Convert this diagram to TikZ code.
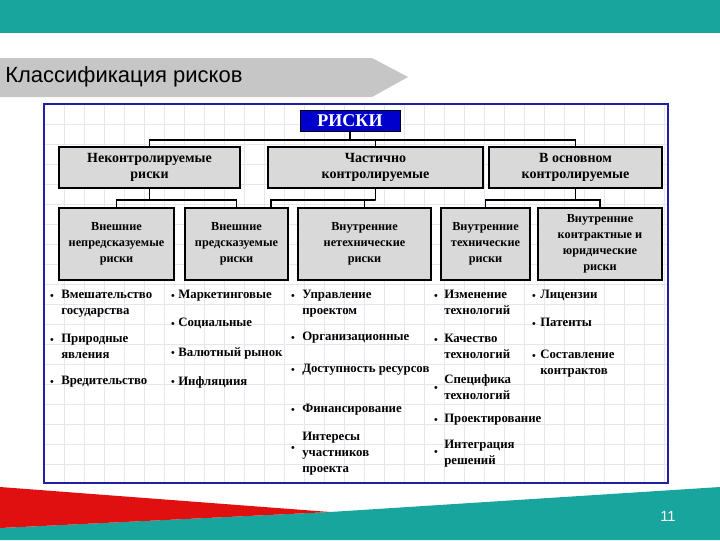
\documentclass[tikz,border=0pt]{standalone}
\usepackage{fontspec}
\setmainfont{Liberation Serif}
\newfontfamily\titlefont{Liberation Sans}
\begin{document}
\begin{tikzpicture}[x=0.75pt,y=-0.75pt,
  box/.style={draw=black,fill=boxgray,line width=0.8pt,align=center,font=\bfseries\fontsize{10.5}{12.5}\selectfont,inner sep=1pt},
  sbox/.style={box,minimum height=54pt,font=\bfseries\fontsize{9.2}{12}\selectfont},
  itm/.style={anchor=north west,align=left,font=\bfseries\fontsize{9.6}{12}\selectfont,inner sep=0pt},
  bul/.style={font=\bfseries\fontsize{8}{8}\selectfont,inner sep=0pt},
  conn/.style={line width=0.9pt}]
\definecolor{teal1}{HTML}{17A59E}
\definecolor{boxgray}{HTML}{D9D9D9}
\definecolor{gridc}{HTML}{E6E6EE}
\definecolor{framec}{HTML}{2020A0}
\definecolor{redc}{HTML}{E01010}
\useasboundingbox (0,0) rectangle (720,540);
\fill[white] (0,0) rectangle (720,540);
\fill[teal1] (0,0) rectangle (720,33);
% title arrow
\fill[gray!45] (0,58) -- (372,58) -- (408,77) -- (372,97) -- (0,97) -- cycle;
\node[anchor=west,font=\titlefont\fontsize{16.5}{17}\selectfont,inner sep=0pt] (title) at (5,77) {Классификация рисков};
% frame
\fill[white] (44,104) rectangle (668,483);
\foreach \x in {44,64,...,668} \draw[gridc,line width=0.4pt] (\x,104) -- (\x,483);
\foreach \y in {104,124,...,483} \draw[gridc,line width=0.4pt] (44,\y) -- (668,\y);
\draw[framec,line width=1.2pt] (44,104) rectangle (668,483);
% top
\node[draw=black,fill=blue!80!black,text=white,font=\bfseries\fontsize{13.5}{14}\selectfont,minimum width=75pt,minimum height=15.5pt,inner sep=0pt] (r) at (350,120.5) {РИСКИ};
\node[box,minimum width=135.75pt,minimum height=30.75pt] (b1) at (149.5,167.5) {Неконтролируемые\\риски};
\node[box,minimum width=161.25pt,minimum height=30.75pt] (b2) at (375.5,167.5) {Частично\\контролируемые};
\node[box,minimum width=129.75pt,minimum height=30.75pt] (b3) at (575.5,167.5) {В основном\\контролируемые};
\draw[conn] (r.south) -- (350,140);
\draw[conn] (b1.north) |- (350,140) -| (b3.north);
\draw[conn] (b2.north) -- (b2.north |- 0,140);
% level 3
\node[sbox,minimum width=86.25pt] (c1) at (116.5,244) {Внешние\\непредсказуемые\\риски};
\node[sbox,minimum width=77.25pt] (c2) at (236.5,244) {Внешние\\предсказуемые\\риски};
\node[sbox,minimum width=99.75pt] (c3) at (364.5,244) {Внутренние\\нетехнические\\риски};
\node[sbox,minimum width=66.75pt] (c4) at (485.5,244) {Внутренние\\технические\\риски};
\node[sbox,minimum width=93pt] (c5) at (600,244) {Внутренние\\контрактные и\\юридические\\риски};
\draw[conn] (b1.south) -- (149.5,200);
\draw[conn] (c1.north) |- (149.5,200) -| (c2.north);
\draw[conn] (b2.south) -- (375.5,200);
\draw[conn] (271,208) |- (375.5,200) -| (c3.north);
\draw[conn] (b3.south) -- (575.5,200);
\draw[conn] (c4.north) |- (575.5,200) -| (c5.north);
% lists
\foreach \bx/\by in {52/297,52/341,52/383,173/297,173/325,173/354,173/383,293/297,293/339,293/371,293/411,293/449,436/297,436/341,436/389,436/421,436/453,534/297,534/325,534/357}
  \node[bul] at (\bx,\by) {•};
\node[itm] (l1) at (61,290) {Вмешательство\\государства};
\node[itm] (l2) at (61,334) {Природные\\явления};
\node[itm] (l3) at (61,376) {Вредительство};
\node[itm] (m1) at (178,290) {Маркетинговые};
\node[itm] (m2) at (178,318) {Социальные};
\node[itm] (m3) at (178,347) {Валютный рынок};
\node[itm] (m4) at (178,376) {Инфляциия};
\node[itm] (n1) at (302,290) {Управление\\проектом};
\node[itm] (n2) at (302,332) {Организационные};
\node[itm] (n3) at (302,364) {Доступность ресурсов};
\node[itm] (n4) at (302,404) {Финансирование};
\node[itm] (n5) at (302,432) {Интересы\\участников\\проекта};
\node[itm] (o1) at (444,290) {Изменение\\технологий};
\node[itm] (o2) at (444,334) {Качество\\технологий};
\node[itm] (o3) at (444,374) {Специфика\\технологий};
\node[itm] (o4) at (444,414) {Проектирование};
\node[itm] (o5) at (444,440) {Интеграция\\решений};
\node[itm] (p1) at (540,290) {Лицензии};
\node[itm] (p2) at (540,318) {Патенты};
\node[itm] (p3) at (540,350) {Составление\\контрактов};
% bottom
\fill[teal1] (0,540) -- (0,528) -- (330,512) -- (720,487) -- (720,540) -- cycle;
\fill[redc] (0,487) -- (330,512) -- (0,528) -- cycle;
\node[text=white,font=\titlefont\fontsize{11}{12}\selectfont] (pg) at (668,516) {11};
\end{tikzpicture}
\end{document}
